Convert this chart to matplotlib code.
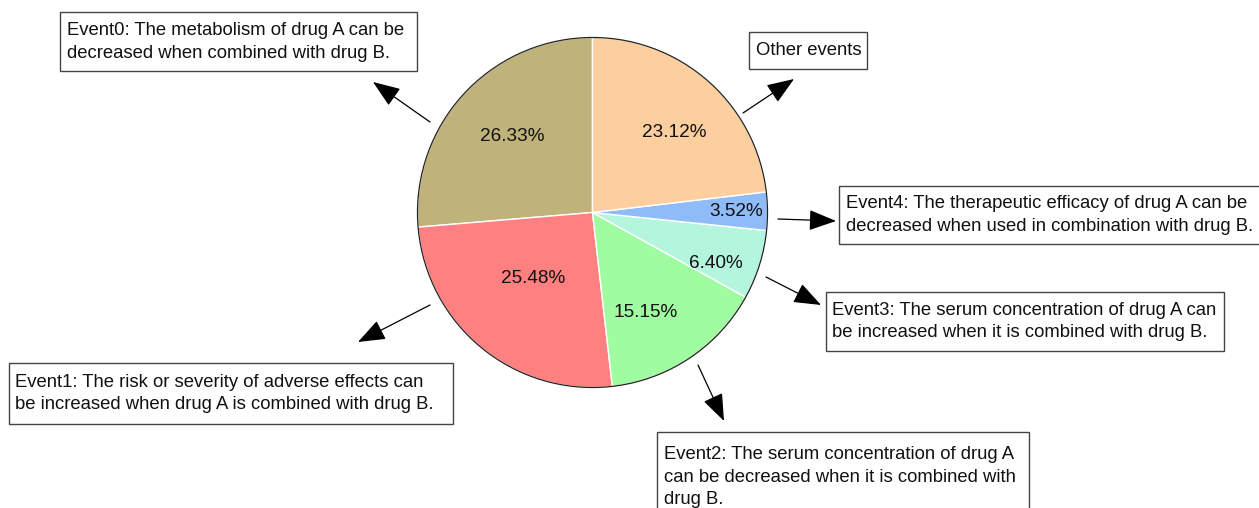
import numpy as np
import matplotlib
matplotlib.use("Agg")
import matplotlib.pyplot as plt
from matplotlib.patches import Rectangle, Circle

plt.rcParams['font.family'] = ['Liberation Sans', 'DejaVu Sans']

# data
names = ['Event0', 'Event1', 'Event2', 'Event3', 'Event4', 'Other events']
shares = [26.33, 25.48, 15.15, 6.40, 3.52, 23.12]
colors = ['#BFB27A', '#FF8080', '#A0FCA0', '#B4F5DE', '#8FBCF9', '#FDCE9E']
descriptions = [
    "Event0: The metabolism of drug A can be\ndecreased when combined with drug B.",
    "Event1: The risk or severity of adverse effects can\nbe increased when drug A is combined with drug B.",
    "Event2: The serum concentration of drug A\ncan be decreased when it is combined with\ndrug B.",
    "Event3: The serum concentration of drug A can\nbe increased when it is combined with drug B.",
    "Event4: The therapeutic efficacy of drug A can be\ndecreased when used in combination with drug B.",
    "Other events",
]

W, H = 1259, 508
def Y(y):
    return H - y

fig = plt.figure(figsize=(W / 100, H / 100), dpi=100)
ax = fig.add_axes([0, 0, 1, 1])

cx, cy, R = 592.5, 212.5, 175
wedges, _ = ax.pie(shares, colors=colors, startangle=90, counterclock=True,
                   center=(cx, Y(cy)), radius=R,
                   wedgeprops=dict(edgecolor='white', linewidth=1.0))
ax.add_patch(Circle((cx, Y(cy)), R, fill=False, edgecolor='#222222', lw=0.9))

# percentage labels: radial fraction and angle nudge per wedge
lab_frac = [0.64, 0.50, 0.64, 0.76, 0.82, 0.66]
lab_nudge = [-1.5, -3.5, -5.5, -4.5, 0.5, -3.5]
for w, s, f, d in zip(wedges, shares, lab_frac, lab_nudge):
    ang = np.deg2rad((w.theta1 + w.theta2) / 2 + d)
    ax.text(cx + f * R * np.cos(ang), Y(cy) + f * R * np.sin(ang) - 1.5, f"{s:.2f}%",
            ha='center', va='center', fontsize=13.7, color='#111111')

# description boxes (left, top, right, bottom) in pixels, text x and center y
boxes = [
    (60, 12, 417, 71, 67, 42),
    (9, 363, 453, 424, 15, 393.5),
    (657, 432, 1029, 530, 664, 477),
    (826, 292, 1224, 351, 832, 321.5),
    (839, 186, 1275, 244, 846, 215),
    (749, 32, 867, 69, 756, 50.5),
]
for (l, t, r, b, tx, ty), txt in zip(boxes, descriptions):
    ax.add_patch(Rectangle((l, Y(b)), r - l, b - t, fill=False,
                           edgecolor='#444444', lw=1.0))
    ax.text(tx, Y(ty), txt, ha='left', va='center', fontsize=13.3,
            linespacing=1.42, color='#111111')

# arrows: (start, tip)
arrows = [
    ((430, 122), (373, 82)),
    ((430, 305), (358, 342)),
    ((698, 365), (724, 421)),
    ((766, 277), (821, 305)),
    ((778, 219), (836, 221)),
    ((743, 113), (794, 79)),
]
for (sx, sy), (ex, ey) in arrows:
    ax.annotate('', xy=(ex, Y(ey)), xytext=(sx, Y(sy)),
                arrowprops=dict(arrowstyle='-|>,head_length=1.0,head_width=0.38',
                                mutation_scale=17, lw=0.9, color='black',
                                shrinkA=0, shrinkB=0))

ax.set_xlim(0, W)
ax.set_ylim(0, H)
ax.set_aspect('auto')
ax.axis('off')

fig.savefig("out.png", dpi=100)
